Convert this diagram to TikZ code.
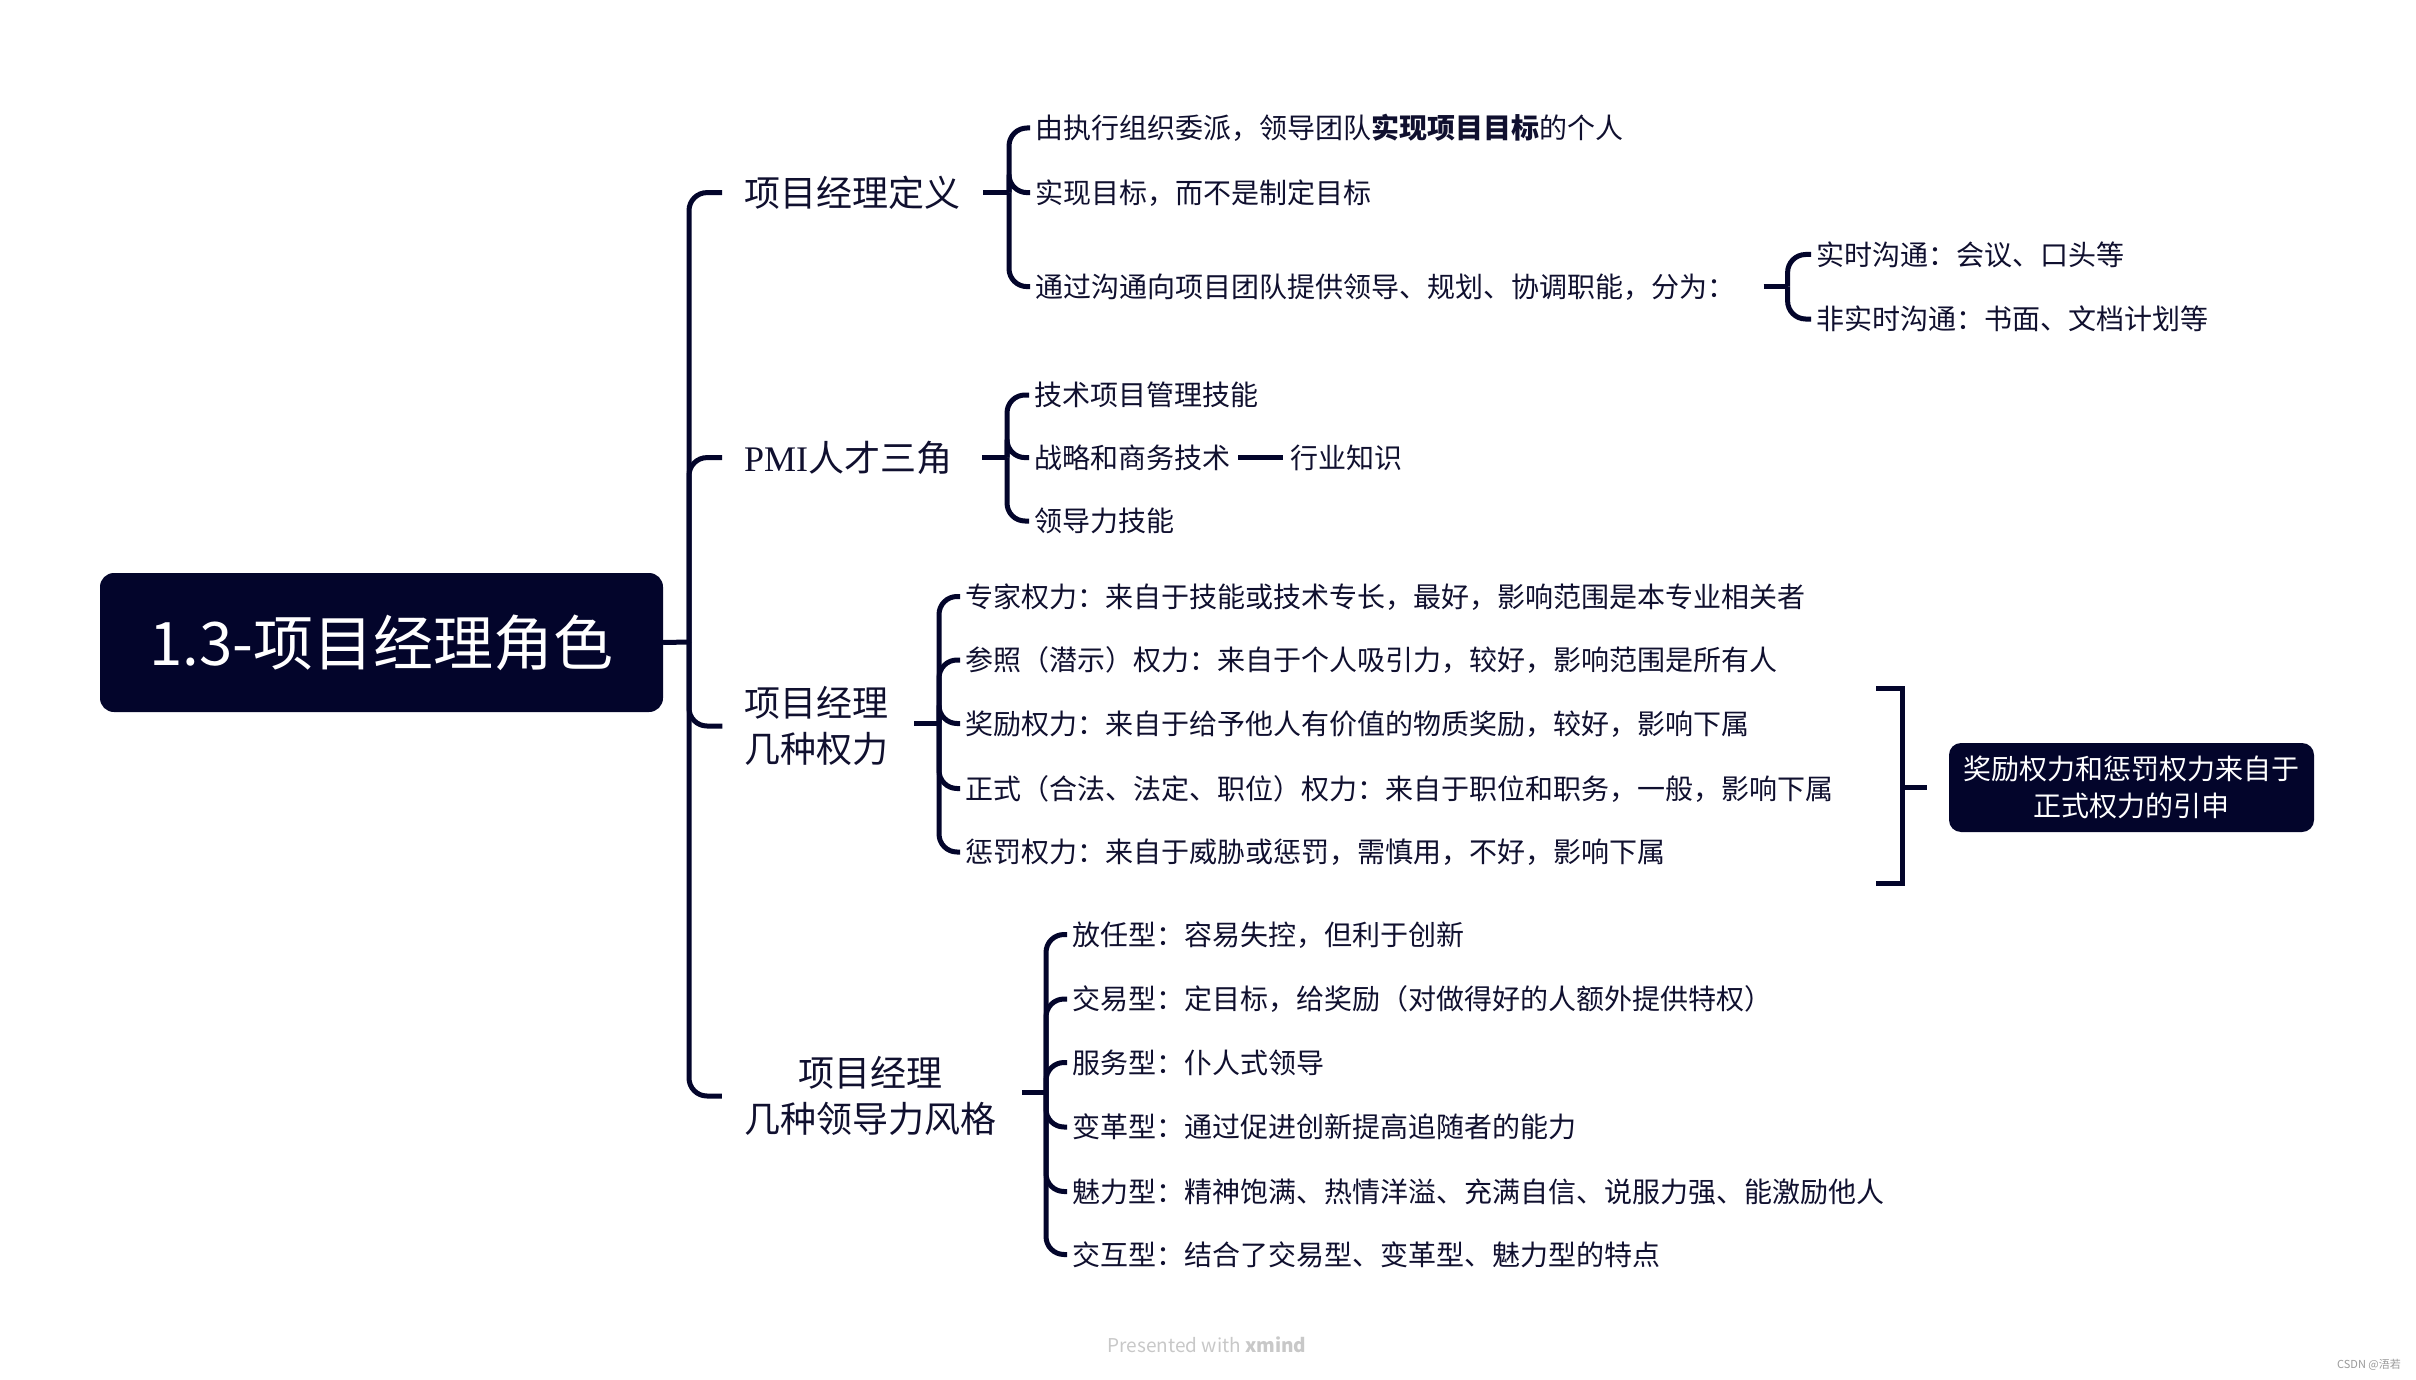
\documentclass[tikz,border=0pt]{standalone}
\usepackage{fontspec}
\setmainfont{Noto Sans CJK SC}
\newfontfamily\pmifont{Liberation Serif}
\usetikzlibrary{calc}
\definecolor{navy}{HTML}{03052B}
\definecolor{ink}{HTML}{10102F}
\definecolor{footgray}{HTML}{C8C8C8}
\definecolor{markgray}{HTML}{9A9A9A}
\begin{document}
\begin{tikzpicture}[x=1pt,y=-1pt,
  conn/.style={draw=navy,line width=5pt,rounded corners=18pt},
  bracketline/.style={draw=navy,line width=5pt},
  rootbox/.style={fill=navy,rounded corners=14pt,text=white,font=\fontsize{60}{72}\selectfont,
    minimum width=563pt,minimum height=139pt,inner sep=0pt,text height=52.8pt,text depth=7.2pt},
  callout/.style={fill=navy,rounded corners=12pt,text=white,font=\fontsize{28}{37}\selectfont,
    minimum width=365pt,minimum height=89pt,inner sep=0pt,align=center},
  lone/.style={text=ink,font=\fontsize{36}{46}\selectfont,inner sep=0pt,align=center},
  lonesingle/.style={lone,anchor=west,text height=31.7pt,text depth=4.3pt},
  ltwo/.style={text=ink,font=\fontsize{28}{34}\selectfont,inner xsep=5pt,inner ysep=0pt,
    anchor=west,text height=24.6pt,text depth=3.4pt},
]
\fill[white] (0,0) rectangle (2416,1380);
\useasboundingbox (0,0) rectangle (2416,1380);

% root and level-1
\node[rootbox] (root) at (381.5,642.5) {1.3-项目经理角色};
\node[lonesingle] (b1) at (744,192.6) {项目经理定义};
\node[lonesingle] (b2) at (744,457.6) {{\pmifont PMI}人才三角};
\node[lone] (b3) at (816.5,726) {项目经理\\几种权力};
\node[lone] (b4) at (870,1096) {项目经理\\几种领导力风格};

\coordinate (rj) at (689,642);
\draw[conn] (root.east) -- (rj);
\foreach \b in {b1,b2,b3,b4} \draw[conn] (rj) |- ([xshift=-22pt]\b.west);

% branch 1
\coordinate (j1) at (1009,192.6);
\node[ltwo] (c11) at (1030,128) {由执行组织委派，领导团队\textbf{实现项目目标}的个人};
\node[ltwo] (c12) at (1030,192.6) {实现目标，而不是制定目标};
\node[ltwo] (c13) at (1030,286.6) {通过沟通向项目团队提供领导、规划、协调职能，分为：};
\draw[conn] ([xshift=-26pt]j1) -- (j1);
\foreach \c in {c11,c12,c13} \draw[conn] (j1) |- (\c.west);

\coordinate (j13) at (1787.6,286.6);
\node[ltwo] (g131) at (1811,254.5) {实时沟通：会议、口头等};
\node[ltwo] (g132) at (1811,319) {非实时沟通：书面、文档计划等};
\draw[conn] ([xshift=-24pt]j13) -- (j13);
\foreach \c in {g131,g132} \draw[conn] (j13) |- (\c.west);

% branch 2
\coordinate (j2) at (1007,457.6);
\node[ltwo] (c21) at (1029,395) {技术项目管理技能};
\node[ltwo] (c22) at (1029,457.6) {战略和商务技术};
\node[ltwo] (c23) at (1029,521) {领导力技能};
\node[ltwo] (g221) at (1285,457.6) {行业知识};
\draw[conn] ([xshift=-25pt]j2) -- (j2);
\foreach \c in {c21,c22,c23} \draw[conn] (j2) |- (\c.west);
\draw[conn] ([xshift=3pt]c22.east) -- ([xshift=-2pt]g221.west);

% branch 3
\coordinate (j3) at (939,723);
\node[ltwo] (c31) at (960,596.5) {专家权力：来自于技能或技术专长，最好，影响范围是本专业相关者};
\node[ltwo] (c32) at (960,660) {参照（潜示）权力：来自于个人吸引力，较好，影响范围是所有人};
\node[ltwo] (c33) at (960,723.5) {奖励权力：来自于给予他人有价值的物质奖励，较好，影响下属};
\node[ltwo] (c34) at (960,788.5) {正式（合法、法定、职位）权力：来自于职位和职务，一般，影响下属};
\node[ltwo] (c35) at (960,852) {惩罚权力：来自于威胁或惩罚，需慎用，不好，影响下属};
\draw[conn] ([xshift=-25pt]j3) -- (j3);
\foreach \c in {c31,c32,c33,c34,c35} \draw[conn] (j3) |- (\c.west);

% summary bracket
\coordinate (bt) at (1902,688);
\coordinate (bb) at (1902,883);
\coordinate (bm) at (1902,787.5);
\node[callout] (sum) at (2131.5,787.5) {奖励权力和惩罚权力来自于\\正式权力的引申};
\draw[bracketline] ([xshift=-26pt]bt) -- (bt) -- (bb) -- ([xshift=-26pt]bb);
\draw[bracketline] (bm) -- ([xshift=-22pt]sum.west);

% branch 4
\coordinate (j4) at (1046,1092);
\node[ltwo] (c41) at (1067,934.5) {放任型：容易失控，但利于创新};
\node[ltwo] (c42) at (1067,999) {交易型：定目标，给奖励（对做得好的人额外提供特权）};
\node[ltwo] (c43) at (1067,1062.5) {服务型：仆人式领导};
\node[ltwo] (c44) at (1067,1127) {变革型：通过促进创新提高追随者的能力};
\node[ltwo] (c45) at (1067,1191.5) {魅力型：精神饱满、热情洋溢、充满自信、说服力强、能激励他人};
\node[ltwo] (c46) at (1067,1254.5) {交互型：结合了交易型、变革型、魅力型的特点};
\draw[conn] ([xshift=-24pt]j4) -- (j4);
\foreach \c in {c41,c42,c43,c44,c45,c46} \draw[conn] (j4) |- (\c.west);

% footer
\node[text=footgray,font=\fontsize{19}{19}\selectfont,inner sep=0pt] (foot) at (1207,1345) {Presented with \textbf{xmind}};
\node[text=markgray,font=\fontsize{11}{11}\selectfont,inner sep=0pt] (mark) at (2369,1365) {CSDN @浯若};
\end{tikzpicture}
\end{document}
